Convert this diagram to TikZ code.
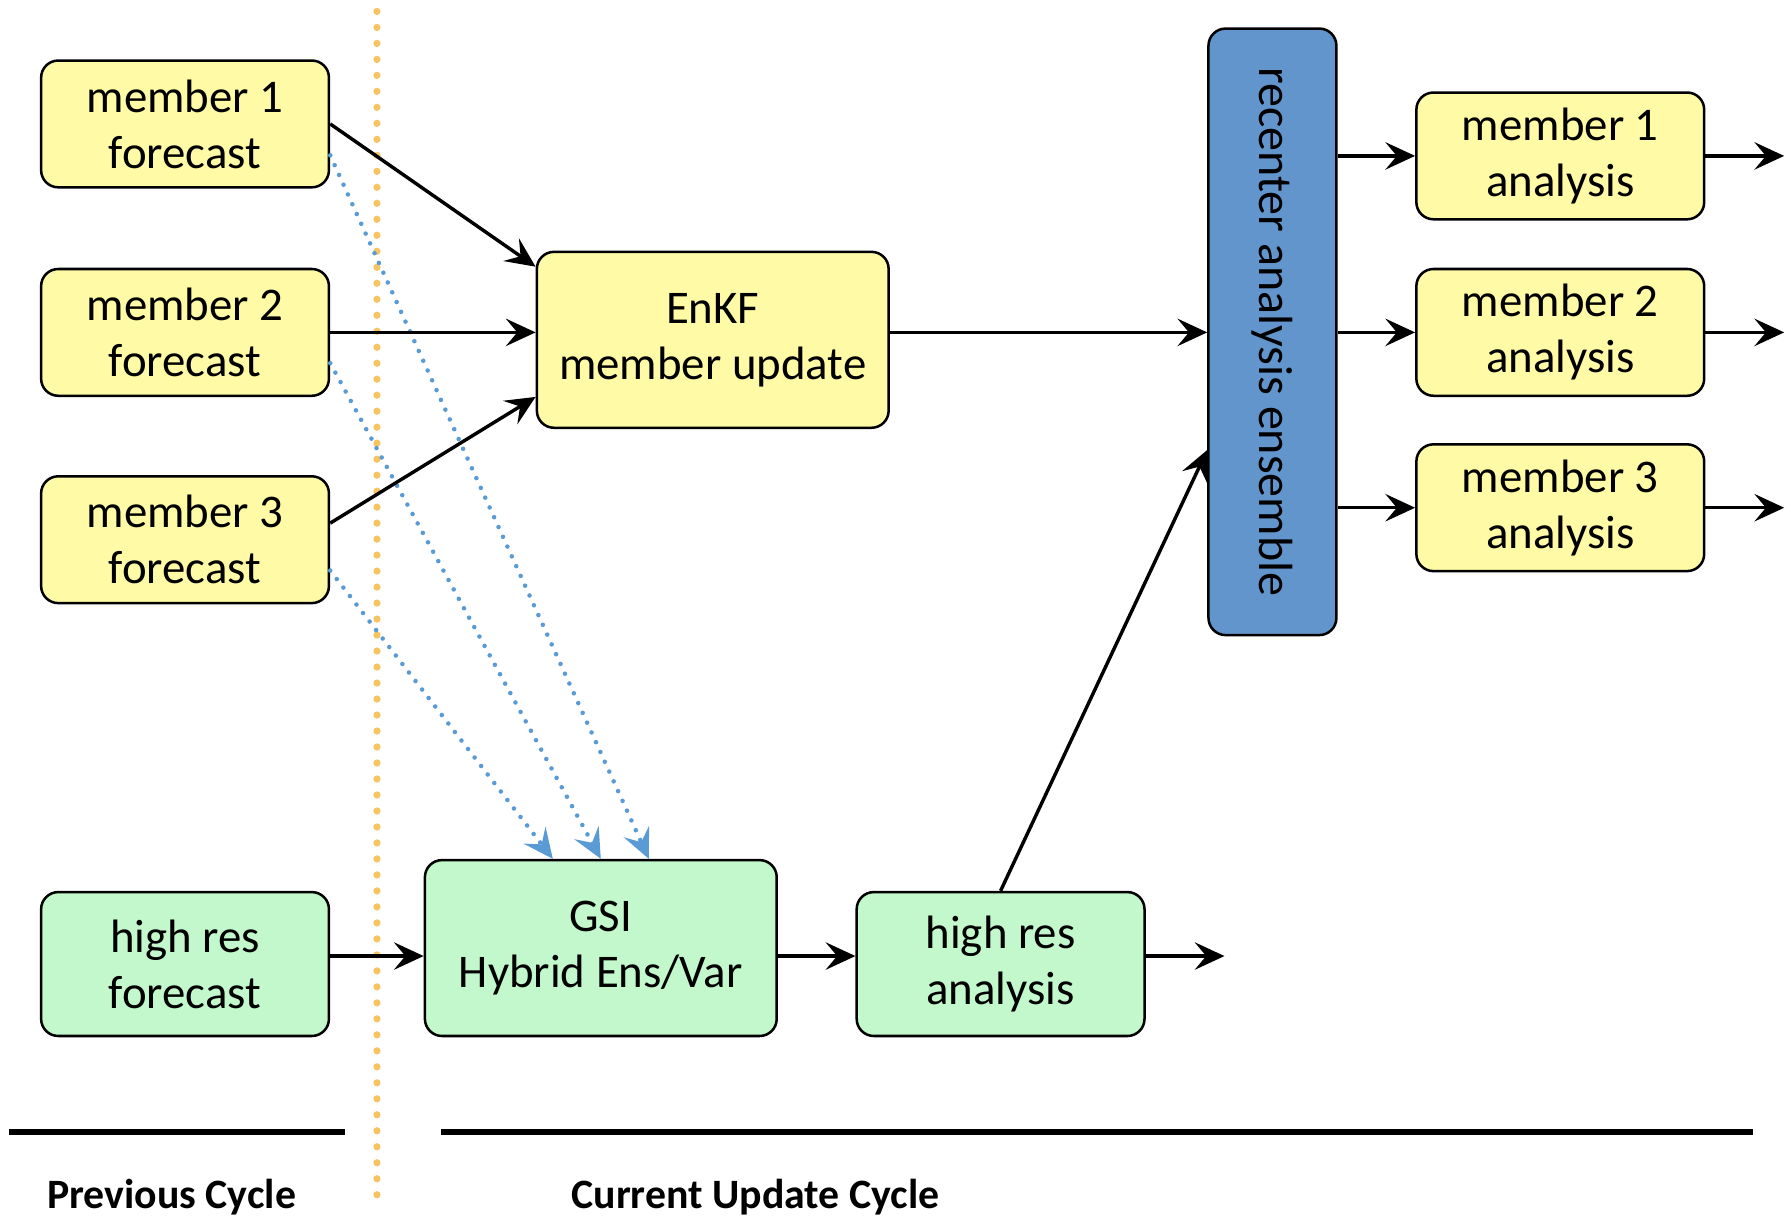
\documentclass[tikz,border=0pt]{standalone}
\usepackage{fontspec}
\setmainfont{Carlito}
\usepackage{xcolor}
\usepackage{tikz}
\usetikzlibrary{arrows.meta}

\definecolor{ensyellow}{HTML}{FFFAA5}
\definecolor{hirgreen}{HTML}{C2F8CB}
\definecolor{recblue}{HTML}{6195CB}
\definecolor{dotblue}{HTML}{5B9BD5}
\definecolor{dotorange}{HTML}{F7C462}

\tikzset{
  box/.style={draw,line width=1.1pt,rounded corners=7.5pt,inner sep=0pt,align=center,
    font=\fontsize{20.5}{24.5}\selectfont},
  fcst/.style={box,fill=ensyellow,minimum width=126pt,minimum height=55.5pt},
  hires/.style={box,fill=hirgreen,minimum width=126pt,minimum height=63pt},
  solver/.style={box,minimum width=154pt,minimum height=77pt},
  arr/.style={line width=1.5pt,-{Stealth[length=13pt,width=12pt,inset=5pt]}},
  ensarr/.style={dotblue,line width=2pt,line cap=round,dash pattern=on 0pt off 4.7pt,
    -{Stealth[length=13pt,width=12pt,inset=5pt]}},
  cyclelbl/.style={inner sep=0pt,font=\fontsize{18.3}{21}\selectfont\bfseries}
}

\begin{document}
\begin{tikzpicture}[x=0.5pt,y=-0.5pt]
\useasboundingbox (0,0) rectangle (1568,1065);

% previous cycle
\node[fcst] (m1f) at (162,108.5) {member 1\\forecast};
\node[fcst] (m2f) at (162,291) {member 2\\forecast};
\node[fcst] (m3f) at (162,472.5) {member 3\\forecast};
\node[hires] (hrf) at (162,844) {high res\\forecast};

% current update cycle
\node[solver,fill=ensyellow] (enkf) at (624,297.5) {EnKF\\member update};
\node[solver,fill=hirgreen] (gsi) at (526,830) {GSI\\Hybrid Ens/Var};
\node[hires] (hra) at (876,844) {high res\\analysis};
\node[box,fill=recblue,minimum width=56pt,minimum height=265.5pt,
  font=\fontsize{21}{25}\selectfont] (rec) at (1114,290.5)
  {\rotatebox{-90}{recenter analysis ensemble}};
\node[fcst] (m1a) at (1366,136.5) {member 1\\analysis};
\node[fcst] (m2a) at (1366,291) {member 2\\analysis};
\node[fcst] (m3a) at (1366,444.5) {member 3\\analysis};

\coordinate (o1) at (1562,136.5);
\coordinate (o2) at (1562,291);
\coordinate (o3) at (1562,444.5);
\coordinate (o4) at (1072,837);

% cycle boundary
\draw[dotorange,line width=3.2pt,line cap=round,dash pattern=on 0pt off 7pt] (330,10) -- (330,1048);

% ensemble perturbations into the hybrid
\draw[ensarr] ([yshift=-13.75pt]m1f.east) -- ([xshift=21pt]gsi.north);
\draw[ensarr] ([yshift=-13.5pt]m2f.east) -- (gsi.north);
\draw[ensarr] ([yshift=-13.5pt]m3f.east) -- ([xshift=-21pt]gsi.north);

\draw[arr] (m1f.east) -- ([yshift=32pt]enkf.west);
\draw[arr] (m2f.east) -- (m2f -| enkf.west);
\draw[arr] ([yshift=7.25pt]m3f.east) -- ([yshift=-25pt]enkf.west);
\draw[arr] (m2f -| enkf.east) -- (m2f -| rec.west);
\draw[arr] (hra.north) -- ([yshift=-51.75pt]rec.west);
\draw[arr] (m1a -| rec.east) -- (m1a.west);
\draw[arr] (m2a -| rec.east) -- (m2a.west);
\draw[arr] (m3a -| rec.east) -- (m3a.west);
\draw[arr] (m1a.east) -- (o1);
\draw[arr] (m2a.east) -- (o2);
\draw[arr] (m3a.east) -- (o3);
\draw[arr] ([yshift=3.5pt]hrf.east) -- ([yshift=-3.5pt]gsi.west);
\draw[arr] ([yshift=-3.5pt]gsi.east) -- ([yshift=3.5pt]hra.west);
\draw[arr] ([yshift=3.5pt]hra.east) -- (o4);

% timeline
\draw[line width=2.6pt] (8,991) -- (302,991);
\draw[line width=2.6pt] (386,991) -- (1535,991);
\node[cyclelbl,anchor=base west] (prev) at (41,1057.6) {Previous Cycle};
\node[cyclelbl,anchor=base west] (curr) at (500,1057.6) {Current Update Cycle};
\end{tikzpicture}
\end{document}
